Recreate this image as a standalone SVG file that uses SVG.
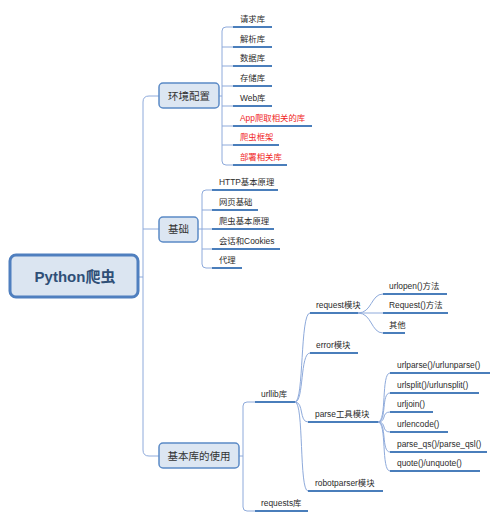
<svg xmlns="http://www.w3.org/2000/svg" width="500" height="521" viewBox="0 0 500 521">
<style>
text{font-family:"Liberation Sans","Noto Sans CJK SC",sans-serif;}
.root rect{fill:#dbe5f1;stroke:#4f7fbf;stroke-width:3;}
.root text{font-size:15px;font-weight:bold;fill:#2f4f77;text-anchor:middle;}
.main rect{fill:#dce6f2;stroke:#5b8ac6;stroke-width:1.5;}
.main text{font-size:10.5px;fill:#333;text-anchor:middle;}
.leaf line{stroke:#4a7ebb;stroke-width:2;}
.leaf text{font-size:8.4px;fill:#2b2b2b;}
.leaf.red text{fill:#f01e1e;}
.conn path{fill:none;stroke:#8eaadb;stroke-width:1;}
</style>
<rect width="500" height="521" fill="#fff"/>
<g class="conn">
<path d="M138,277 H143"/>
<path d="M159,96 H149 Q143,96 143,102 V450 Q143,456 149,456 H159"/>
<path d="M143,229 H159"/>
<path d="M219,96 H222"/>
<path d="M233,27 H226 Q222,27 222,31 V161 Q222,165 226,165 H233"/>
<path d="M222,47 H233 M222,66 H233 M222,86 H233 M222,106 H233 M222,126 H233 M222,145 H233"/>
<path d="M198,229 H202"/>
<path d="M212,190 H206 Q202,190 202,194 V264 Q202,268 206,268 H212"/>
<path d="M202,210 H212 M202,229 H212 M202,249 H212"/>
<path d="M239,456 H243"/>
<path d="M255,402 H247 Q243,402 243,406 V507 Q243,511 247,511 H255"/>
<path d="M295,402 C304,402 300,313 310,313"/>
<path d="M295,402 C304,402 300,353 310,353"/>
<path d="M295,402 C304,402 299,422 308,422"/>
<path d="M295,402 C304,402 299,491 308,491"/>
<path d="M358,313 C372,313 371,294 383,294"/>
<path d="M358,313 H383"/>
<path d="M358,313 C372,313 371,333 383,333"/>
<path d="M378,422 C387,422 381,373 390,373"/>
<path d="M378,422 C387,422 381,393 390,393"/>
<path d="M378,422 C387,422 381,412 390,412"/>
<path d="M378,422 C387,422 381,432 390,432"/>
<path d="M378,422 C387,422 381,452 390,452"/>
<path d="M378,422 C387,422 381,471 390,471"/>
</g>
<g id="root" class="root"><rect x="10" y="255" width="128" height="42" rx="6"/><text x="75" y="282">Python爬虫</text></g>
<g id="env" class="main"><rect x="159" y="83" width="60" height="25" rx="4"/><text x="189" y="99.5">环境配置</text></g>
<g id="basic" class="main"><rect x="159" y="217" width="39" height="25" rx="4"/><text x="178.5" y="233">基础</text></g>
<g id="lib" class="main"><rect x="159" y="443" width="80" height="25" rx="4"/><text x="199" y="459.5">基本库的使用</text></g>
<g id="n-req-lib" class="leaf"><text x="240" y="22">请求库</text><line x1="233" y1="27" x2="272" y2="27"/></g>
<g id="n-parse-lib" class="leaf"><text x="240" y="42">解析库</text><line x1="233" y1="47" x2="272" y2="47"/></g>
<g id="n-db-lib" class="leaf"><text x="240" y="61">数据库</text><line x1="233" y1="66" x2="272" y2="66"/></g>
<g id="n-store-lib" class="leaf"><text x="240" y="81">存储库</text><line x1="233" y1="86" x2="272" y2="86"/></g>
<g id="n-web-lib" class="leaf"><text x="240" y="101">Web库</text><line x1="233" y1="106" x2="272" y2="106"/></g>
<g id="n-app-lib" class="leaf red"><text x="240" y="121">App爬取相关的库</text><line x1="233" y1="126" x2="312" y2="126"/></g>
<g id="n-frame" class="leaf red"><text x="240" y="140">爬虫框架</text><line x1="233" y1="145" x2="279" y2="145"/></g>
<g id="n-deploy" class="leaf red"><text x="240" y="160">部署相关库</text><line x1="233" y1="165" x2="287" y2="165"/></g>
<g id="n-http" class="leaf"><text x="219" y="185">HTTP基本原理</text><line x1="212" y1="190" x2="278" y2="190"/></g>
<g id="n-web" class="leaf"><text x="219" y="205">网页基础</text><line x1="212" y1="210" x2="258" y2="210"/></g>
<g id="n-spider" class="leaf"><text x="219" y="224">爬虫基本原理</text><line x1="212" y1="229" x2="274" y2="229"/></g>
<g id="n-session" class="leaf"><text x="219" y="244">会话和Cookies</text><line x1="212" y1="249" x2="280" y2="249"/></g>
<g id="n-proxy" class="leaf"><text x="219" y="263">代理</text><line x1="212" y1="268" x2="242" y2="268"/></g>
<g id="n-urllib" class="leaf"><text x="261" y="397">urllib库</text><line x1="255" y1="402" x2="295" y2="402"/></g>
<g id="n-requests" class="leaf"><text x="261" y="506">requests库</text><line x1="255" y1="511" x2="308" y2="511"/></g>
<g id="n-request-mod" class="leaf"><text x="316" y="308">request模块</text><line x1="310" y1="313" x2="358" y2="313"/></g>
<g id="n-error-mod" class="leaf"><text x="316" y="348">error模块</text><line x1="310" y1="353" x2="358" y2="353"/></g>
<g id="n-parse-mod" class="leaf"><text x="315" y="417">parse工具模块</text><line x1="308" y1="422" x2="378" y2="422"/></g>
<g id="n-robot-mod" class="leaf"><text x="315" y="486">robotparser模块</text><line x1="308" y1="491" x2="383" y2="491"/></g>
<g id="n-urlopen" class="leaf"><text x="389" y="289">urlopen()方法</text><line x1="383" y1="294" x2="447" y2="294"/></g>
<g id="n-Request" class="leaf"><text x="389" y="308">Request()方法</text><line x1="383" y1="313" x2="448" y2="313"/></g>
<g id="n-other" class="leaf"><text x="389" y="328">其他</text><line x1="383" y1="333" x2="405" y2="333"/></g>
<g id="n-urlparse" class="leaf"><text x="397" y="368">urlparse()/urlunparse()</text><line x1="390" y1="373" x2="490" y2="373"/></g>
<g id="n-urlsplit" class="leaf"><text x="397" y="388">urlsplit()/urlunsplit()</text><line x1="390" y1="393" x2="479" y2="393"/></g>
<g id="n-urljoin" class="leaf"><text x="397" y="407">urljoin()</text><line x1="390" y1="412" x2="433" y2="412"/></g>
<g id="n-urlencode" class="leaf"><text x="397" y="427">urlencode()</text><line x1="390" y1="432" x2="448" y2="432"/></g>
<g id="n-parseqs" class="leaf"><text x="397" y="447">parse_qs()/parse_qsl()</text><line x1="390" y1="452" x2="487" y2="452"/></g>
<g id="n-quote" class="leaf"><text x="397" y="466">quote()/unquote()</text><line x1="390" y1="471" x2="480" y2="471"/></g>
</svg>
